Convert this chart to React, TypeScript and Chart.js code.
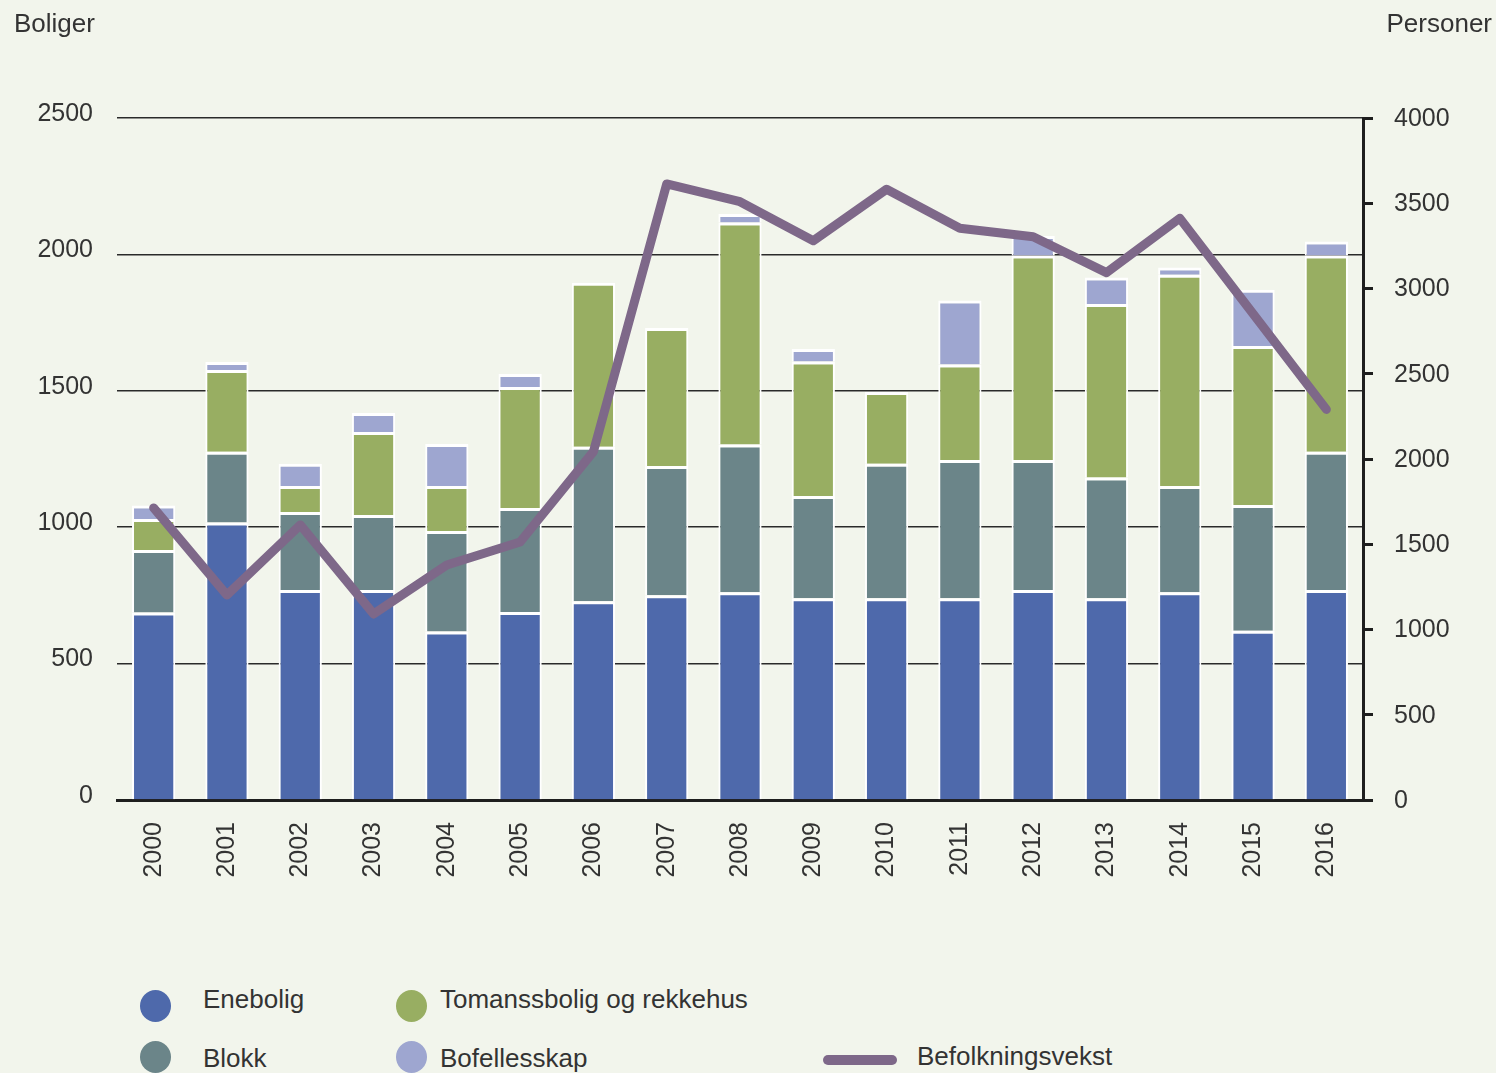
import React, { useEffect, useRef } from "react";
import { Chart, registerables } from "chart.js";

Chart.register(...registerables);

const years = ["2000","2001","2002","2003","2004","2005","2006","2007","2008","2009","2010","2011","2012","2013","2014","2015","2016"];
const enebolig = [687, 1017, 770, 770, 618, 689, 729, 751, 762, 740, 740, 740, 770, 740, 762, 620, 770];
const blokk = [229, 260, 286, 275, 368, 381, 566, 473, 541, 374, 493, 506, 476, 442, 389, 461, 507];
const tomanns = [114, 299, 95, 304, 165, 444, 601, 506, 814, 493, 263, 350, 750, 636, 774, 583, 719];
const bofelles = [50, 30, 82, 70, 154, 48, 0, 0, 31, 46, 0, 235, 71, 97, 27, 206, 51];
const befolkningsvekst = [1713, 1202, 1613, 1091, 1378, 1513, 2043, 3613, 3509, 3280, 3582, 3353, 3304, 3093, 3412, 2852, 2291];

const leftTicks = [0, 500, 1000, 1500, 2000, 2500];
const rightTicks = [0, 500, 1000, 1500, 2000, 2500, 3000, 3500, 4000];

const C_ENE = "#4e69ab";
const C_BLOKK = "#6b8589";
const C_TOM = "#98ae62";
const C_BOF = "#9ea6d0";
const C_LINE = "#7e6889";
const BG = "#f2f5ec";
const TXT = "#333333";
const FONT = "'Liberation Sans', Arial, sans-serif";

export default function App() {
  const ref = useRef<HTMLCanvasElement | null>(null);

  useEffect(() => {
    if (!ref.current) return;
    const barCommon = {
      type: "bar" as const,
      yAxisID: "y",
      stack: "s",
      borderColor: "#ffffff",
      borderWidth: { top: 3, left: 2, right: 2, bottom: 0 },
      borderSkipped: "start" as const,
      categoryPercentage: 1,
      barPercentage: 0.59,
      order: 1,
    };
    const plain = (v: any) => String(v);
    const chart = new Chart(ref.current, {
      type: "bar",
      data: {
        labels: years,
        datasets: [
          {
            type: "line",
            label: "Befolkningsvekst",
            data: befolkningsvekst,
            yAxisID: "y2",
            borderColor: C_LINE,
            backgroundColor: C_LINE,
            borderWidth: 9,
            pointRadius: 0,
            tension: 0,
            borderCapStyle: "round",
            borderJoinStyle: "round",
            order: 0,
          } as any,
          { ...barCommon, label: "Enebolig", data: enebolig, backgroundColor: C_ENE } as any,
          { ...barCommon, label: "Blokk", data: blokk, backgroundColor: C_BLOKK } as any,
          { ...barCommon, label: "Tomanssbolig og rekkehus", data: tomanns, backgroundColor: C_TOM } as any,
          { ...barCommon, label: "Bofellesskap", data: bofelles, backgroundColor: C_BOF } as any,
        ],
      },
      options: {
        responsive: false,
        animation: false,
        devicePixelRatio: 1,
        layout: { padding: { top: 118, left: 1, right: 0, bottom: 0 } },
        plugins: { legend: { display: false }, tooltip: { enabled: false } },
        scales: {
          x: {
            stacked: true,
            grid: { display: false },
            border: { display: true, color: "#1e1e1e", width: 3 },
            ticks: {
              font: { size: 25, family: FONT },
              color: TXT,
              maxRotation: 90,
              minRotation: 90,
              padding: 14,
              autoSkip: false,
            },
            afterFit: (s: any) => { s.height = 100; },
          },
          y: {
            position: "left",
            stacked: true,
            min: 0,
            max: 2500,
            afterBuildTicks: (s: any) => { s.ticks = leftTicks.map((v) => ({ value: v })); },
            grid: { color: "#2a2a2a", lineWidth: 1.5, drawTicks: false },
            border: { display: false },
            ticks: {
              font: { size: 25, family: FONT },
              color: TXT,
              padding: 24,
              labelOffset: -4,
              callback: plain,
            },
            afterFit: (s: any) => { s.width = 116; },
          },
          y2: {
            position: "right",
            stacked: false,
            min: 0,
            max: 4000,
            afterBuildTicks: (s: any) => { s.ticks = rightTicks.map((v) => ({ value: v })); },
            grid: { drawOnChartArea: false, drawTicks: true, tickLength: 10, color: "#1e1e1e", lineWidth: 3 },
            border: { display: true, color: "#1e1e1e", width: 3 },
            ticks: {
              font: { size: 25, family: FONT },
              color: TXT,
              padding: 21,
              labelOffset: 1,
              callback: plain,
            },
            afterFit: (s: any) => { s.width = 133; },
          },
        },
      },
    });
    return () => chart.destroy();
  }, []);

  const txt: React.CSSProperties = {
    position: "absolute",
    fontFamily: FONT,
    fontSize: 26,
    lineHeight: "26px",
    color: TXT,
    whiteSpace: "nowrap",
  };
  const dot = (x: number, y: number, c: string): React.CSSProperties => ({
    position: "absolute",
    left: x - 15.5,
    top: y - 16,
    width: 31,
    height: 32,
    borderRadius: "50%",
    background: c,
  });

  return (
    <div style={{ position: "absolute", left: 0, top: 0, width: 1496, height: 1073, background: BG, overflow: "hidden" }}>
      <canvas ref={ref} width={1496} height={900} style={{ position: "absolute", left: 0, top: 0, width: 1496, height: 900 }} />
      <div style={{ ...txt, left: 14, top: 10 }}>Boliger</div>
      <div style={{ ...txt, right: 4, top: 10 }}>Personer</div>

      <div style={dot(155, 1006, C_ENE)} />
      <div style={{ ...txt, left: 203, top: 986 }}>Enebolig</div>
      <div style={dot(155, 1057, C_BLOKK)} />
      <div style={{ ...txt, left: 203, top: 1045 }}>Blokk</div>
      <div style={dot(411, 1006, C_TOM)} />
      <div style={{ ...txt, left: 440, top: 986 }}>Tomanssbolig og rekkehus</div>
      <div style={dot(411, 1057, C_BOF)} />
      <div style={{ ...txt, left: 440, top: 1045 }}>Bofellesskap</div>
      <div style={{ position: "absolute", left: 823, top: 1055, width: 74, height: 10, borderRadius: 5, background: C_LINE }} />
      <div style={{ ...txt, left: 917, top: 1043 }}>Befolkningsvekst</div>
    </div>
  );
}
